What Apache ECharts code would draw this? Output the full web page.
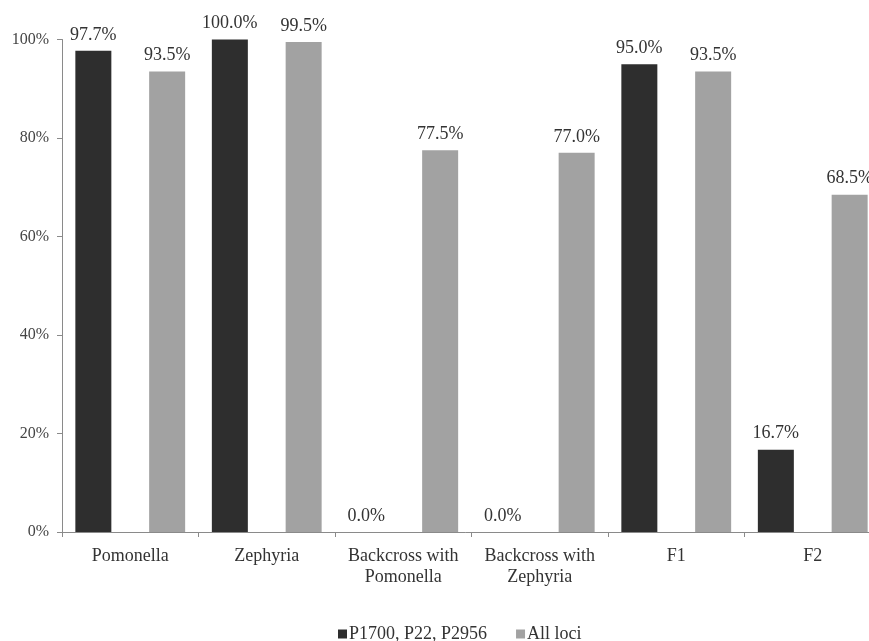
<!DOCTYPE html>
<html>
<head>
<meta charset="utf-8">
<script src="https://cdn.jsdelivr.net/npm/echarts@6/dist/echarts.min.js"></script>
<style>html,body{margin:0;padding:0;background:#fff;}#c{width:869px;height:641px;}</style>
</head>
<body>
<div id="c"></div>
<script>
const categories = ['Pomonella', 'Zephyria', 'Backcross with\nPomonella', 'Backcross with\nZephyria', 'F1', 'F2'];
const seriesNames = ['P1700, P22, P2956', 'All loci'];
const lociSubset = [97.7, 100.0, 0.0, 0.0, 95.0, 16.7];
const allLoci = [93.5, 99.5, 77.5, 77.0, 93.5, 68.5];
const yTicks = [0, 20, 40, 60, 80, 100];

const font = '"Liberation Serif", "DejaVu Serif", serif';
const chart = echarts.init(document.getElementById('c'), null, {renderer: 'canvas'});
const labelCfg = {
  show: true, position: 'top', distance: 7,
  fontFamily: font, fontSize: 18, color: '#333',
  formatter: p => p.value.toFixed(1) + '%'
};
chart.setOption({
  animation: false,
  backgroundColor: '#fff',
  grid: {left: 62, top: 39.5, width: 819, bottom: 109, containLabel: false, outerBoundsMode: 'none'},
  legend: {
    left: 333, top: 620,
    itemWidth: 9, itemHeight: 9, itemGap: 29,
    icon: 'rect',
    textStyle: {fontFamily: font, fontSize: 18, color: '#333', padding: [0, 0, 0, -3]},
    data: seriesNames
  },
  xAxis: {
    type: 'category', data: categories,
    axisLine: {lineStyle: {color: '#8a8a8a', width: 1}},
    axisTick: {show: true, length: 5, alignWithLabel: false, lineStyle: {color: '#8a8a8a'}},
    axisLabel: {fontFamily: font, fontSize: 18, color: '#333', margin: 14, lineHeight: 21, interval: 0}
  },
  yAxis: {
    type: 'value', min: yTicks[0], max: yTicks[yTicks.length - 1], interval: 20,
    axisLine: {show: true, lineStyle: {color: '#8a8a8a', width: 1}},
    axisTick: {show: true, length: 5, lineStyle: {color: '#8a8a8a'}},
    splitLine: {show: false},
    axisLabel: {fontFamily: font, fontSize: 16, color: '#444', margin: 13, formatter: v => v + '%'}
  },
  series: [
    {name: seriesNames[0], type: 'bar', data: lociSubset, barWidth: 36, barGap: '105%',
     itemStyle: {color: '#2e2e2e'}, label: labelCfg},
    {name: seriesNames[1], type: 'bar', data: allLoci, barWidth: 36,
     itemStyle: {color: '#a2a2a2'}, label: labelCfg}
  ]
});
</script>
</body>
</html>
